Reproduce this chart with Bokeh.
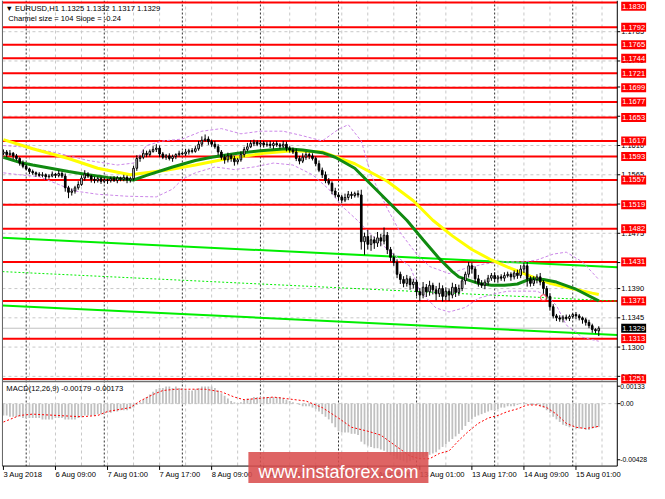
from bokeh.plotting import figure
from bokeh.models import Range1d, Label, ColumnDataSource
from bokeh.core.properties import value
from bokeh.embed import file_html
from bokeh.resources import INLINE

# ---------------- data ----------------
symbol = "EURUSD,H1"
open0 = 1.1598
closes = [
    1.1600, 1.1596, 1.1598, 1.1594, 1.1590, 1.1583, 1.1578, 1.1574, 1.1570, 1.1568,
    1.1566, 1.1564, 1.1565, 1.1562, 1.1563, 1.1566, 1.1564, 1.1567, 1.1563, 1.1545,
    1.1538, 1.1540, 1.1545, 1.1550, 1.1560, 1.1566, 1.1563, 1.1558, 1.1556, 1.1559,
    1.1555, 1.1557, 1.1556, 1.1559, 1.1556, 1.1560, 1.1558, 1.1561, 1.1557, 1.1559,
    1.1575, 1.1590, 1.1592, 1.1598, 1.1596, 1.1601, 1.1604, 1.1606, 1.1597, 1.1592,
    1.1594, 1.1590, 1.1593, 1.1596, 1.1598, 1.1597, 1.1600, 1.1602, 1.1601, 1.1605,
    1.1612, 1.1618, 1.1620, 1.1616, 1.1612, 1.1608, 1.1600, 1.1592, 1.1588, 1.1594,
    1.1590, 1.1585, 1.1588, 1.1596, 1.1604, 1.1608, 1.1613, 1.1615, 1.1612, 1.1614,
    1.1611, 1.1612, 1.1610, 1.1613, 1.1611, 1.1609, 1.1612, 1.1606, 1.1603, 1.1600,
    1.1590, 1.1586, 1.1592, 1.1596, 1.1594, 1.1590, 1.1582, 1.1572, 1.1565, 1.1556,
    1.1552, 1.1540, 1.1534, 1.1531, 1.1526, 1.1530, 1.1535, 1.1533, 1.1536, 1.1534,
    1.1462, 1.1470, 1.1458, 1.1465, 1.1460, 1.1468, 1.1463, 1.1472, 1.1450, 1.1438,
    1.1430, 1.1412, 1.1404, 1.1398, 1.1405, 1.1396, 1.1400, 1.1385, 1.1380, 1.1392,
    1.1385, 1.1395, 1.1388, 1.1382, 1.1390, 1.1378, 1.1386, 1.1380, 1.1392, 1.1384,
    1.1390, 1.1402, 1.1412, 1.1425, 1.1420, 1.1405, 1.1398, 1.1395, 1.1400, 1.1406,
    1.1410, 1.1405, 1.1408, 1.1406, 1.1410, 1.1412, 1.1408, 1.1414, 1.1410, 1.1420,
    1.1425, 1.1405, 1.1398, 1.1404, 1.1408, 1.1400, 1.1390, 1.1378, 1.1362, 1.1348,
    1.1345, 1.1343, 1.1346, 1.1344, 1.1347, 1.1350, 1.1348, 1.1345, 1.1342, 1.1338,
    1.1333, 1.1327, 1.1325, 1.1329,
]
wick_up_pips = [
    4, 3, 5, 2, 3, 2, 4, 3, 2, 3,
    2, 3, 4, 2, 3, 4, 2, 5, 3, 4,
    3, 4, 3, 5, 4, 6, 3, 2, 4, 3,
    3, 4, 2, 3, 4, 3, 2, 4, 3, 3,
    4, 5, 3, 6, 4, 3, 5, 6, 4, 3,
    3, 4, 3, 2, 4, 3, 5, 3, 4, 4,
    5, 6, 7, 4, 3, 5, 4, 3, 4, 5,
    3, 4, 3, 5, 4, 6, 5, 4, 3, 4,
    3, 4, 5, 3, 4, 3, 5, 4, 3, 4,
    5, 4, 6, 4, 3, 4, 3, 5, 4, 5,
    4, 3, 5, 4, 3, 6, 5, 4, 3, 5,
    8, 6, 10, 7, 5, 9, 6, 12, 5, 4,
    6, 5, 4, 5, 6, 4, 5, 4, 6, 8,
    5, 7, 4, 6, 9, 5, 6, 4, 7, 5,
    6, 5, 4, 6, 5, 4, 6, 5, 4, 5,
    4, 5, 3, 4, 5, 4, 3, 4, 5, 6,
    5, 6, 4, 5, 4, 6, 3, 4, 5, 4,
    3, 4, 3, 4, 3, 2, 4, 3, 2, 3,
    4, 3, 2, 3,
]
wick_dn_pips = [
    3, 4, 2, 5, 3, 4, 3, 2, 4, 3,
    4, 2, 3, 5, 3, 2, 4, 3, 3, 6,
    9, 5, 4, 3, 2, 4, 3, 5, 4, 3,
    4, 3, 5, 3, 2, 4, 3, 3, 5, 4,
    3, 4, 5, 3, 4, 3, 2, 4, 5, 3,
    4, 3, 5, 4, 3, 2, 3, 4, 3, 2,
    3, 4, 2, 5, 4, 3, 5, 4, 6, 4,
    5, 6, 4, 3, 4, 3, 2, 4, 3, 5,
    4, 3, 4, 5, 3, 4, 3, 5, 4, 3,
    4, 5, 3, 4, 5, 3, 4, 3, 5, 4,
    3, 5, 4, 6, 5, 3, 4, 5, 3, 4,
    12, 20, 8, 10, 9, 6, 8, 5, 7, 6,
    5, 6, 7, 6, 5, 8, 6, 7, 9, 5,
    8, 6, 7, 10, 5, 8, 6, 9, 5, 7,
    5, 4, 6, 5, 7, 6, 5, 4, 6, 5,
    4, 5, 6, 4, 5, 3, 6, 4, 5, 4,
    6, 12, 5, 4, 6, 5, 8, 5, 6, 4,
    5, 4, 5, 3, 4, 3, 5, 4, 6, 5,
    4, 5, 4, 8,
]

# MACD(12,26,9): main histogram (x 1e-4) and signal line samples
macd_hist_e4 = [
    -9, -9, -10, -10, -10, -10, -11, -11, -11, -11,
    -11, -11, -12, -12, -12, -12, -11, -11, -11, -12,
    -12, -12, -12, -11, -10, -9, -9, -9, -9, -8,
    -8, -8, -7, -7, -6, -6, -5, -5, -5, -4,
    -3, -1, 1, 3, 5, 7, 9, 11, 12, 12,
    13, 13, 12, 13, 12, 12, 11, 10, 10, 11,
    12, 13, 13, 13, 13, 12, 10, 8, 6, 4,
    2, 1, 0, 1, 3, 4, 4, 5, 5, 5,
    5, 5, 5, 5, 5, 5, 4, 3, 2, 1,
    0, -1, -2, -2, -2, -3, -4, -6, -8, -10,
    -12, -15, -18, -21, -22, -22, -22, -23, -23, -24,
    -29, -31, -32, -33, -34, -34, -35, -36, -37, -39,
    -40, -42, -43, -44, -45, -44, -43, -42, -42, -41,
    -40, -39, -38, -37, -35, -33, -31, -29, -27, -25,
    -23, -20, -17, -14, -12, -10, -9, -8, -7, -6,
    -5, -5, -4, -3, -3, -2, -2, -2, -1, 0,
    1, 0, -1, -1, -1, -2, -3, -5, -7, -10,
    -12, -14, -16, -17, -18, -18, -19, -19, -19, -20,
    -20, -19, -18.5, -17.9,
]
macd_last = -0.00179
signal_last = -0.00173
signal_bars = [0, 5, 9, 24, 29, 32, 39, 42, 46, 49, 53, 62, 67, 71, 74, 83, 93, 98,
               103, 107, 112, 116, 121, 125, 128, 131, 134, 137, 140, 143, 146, 149,
               152, 155, 158, 161, 164, 167, 170, 173, 176, 179, 183]
signal_e4 = [-14, -9, -8, -10, -9, -6, -3, 2, 7, 10, 11, 11, 9, 5, 3, 5, 2, -3,
             -11, -18, -21, -24, -33, -40, -42, -42, -38, -36, -28, -21, -15, -11,
             -9, -6, -4, -1, -1, -3, -8, -15, -18, -19, -17.3]

ma_green_bars = [0, 5, 9, 20, 26, 32, 40, 44, 52, 59, 64, 72, 79, 87, 92, 98, 102, 108,
                 112, 118, 124, 129, 134, 138, 140, 143, 146, 150, 154, 158, 162, 166,
                 170, 176, 183]
ma_green = [1.1592, 1.1584, 1.1580, 1.1570, 1.1565, 1.1561, 1.1557, 1.1564, 1.1577,
            1.1587, 1.1592, 1.1598, 1.1602, 1.1605, 1.1603, 1.1599, 1.1592, 1.1575,
            1.1555, 1.1525, 1.1495, 1.1465, 1.1436, 1.1416, 1.1408, 1.1403, 1.1398,
            1.1395, 1.1395, 1.1397, 1.1405, 1.1404, 1.1400, 1.1389, 1.1371]
ma_yellow_bars = [0, 9, 20, 29, 39, 50, 59, 69, 80, 89, 98, 108, 118, 126, 132, 138,
                  144, 150, 156, 162, 168, 174, 181, 183]
ma_yellow = [1.1619, 1.1605, 1.1590, 1.1575, 1.1565, 1.1572, 1.1580, 1.1590, 1.1598,
             1.1602, 1.1600, 1.1582, 1.1555, 1.1525, 1.1495, 1.1471, 1.1450, 1.1434,
             1.1421, 1.1409, 1.1398, 1.1391, 1.1383, 1.1381]

bb_up_bars = [0, 8, 17, 26, 35, 40, 44, 49, 55, 61, 67, 73, 79, 86, 92, 98, 103, 106,
              110, 113, 118, 122, 127, 131, 137, 142, 148, 154, 160, 164, 169, 173, 178, 183]
bb_up = [1.1610, 1.1607, 1.1598, 1.1587, 1.1580, 1.1583, 1.1610, 1.1617, 1.1620, 1.1632,
         1.1636, 1.1628, 1.1632, 1.1632, 1.1625, 1.1617, 1.1635, 1.1642, 1.1617, 1.1565,
         1.1513, 1.1476, 1.1443, 1.1424, 1.1413, 1.1421, 1.1428, 1.1431, 1.1431, 1.1434,
         1.1443, 1.1446, 1.1431, 1.1404]
bb_lo_bars = [0, 5, 11, 17, 22, 29, 38, 47, 52, 55, 59, 65, 71, 77, 83, 89, 95, 100, 104,
              109, 113, 119, 125, 128, 133, 137, 142, 146, 151, 155, 160, 164, 167, 170,
              173, 178, 183]
bb_lo = [1.1568, 1.1565, 1.1562, 1.1550, 1.1540, 1.1535, 1.1532, 1.1531, 1.1543, 1.1558,
         1.1568, 1.1577, 1.1573, 1.1577, 1.1583, 1.1580, 1.1565, 1.1543, 1.1517, 1.1494,
         1.1473, 1.1446, 1.1424, 1.1386, 1.1360, 1.1354, 1.1361, 1.1375, 1.1382, 1.1386,
         1.1386, 1.1386, 1.1379, 1.1364, 1.1334, 1.1315, 1.1309]

channel_mid0 = 1.1416
channel_slope_pips = -0.24
channel_size_pips = 104

levels = [1.1830, 1.1792, 1.1765, 1.1744, 1.1721, 1.1699, 1.1677, 1.1653, 1.1617,
          1.1593, 1.1557, 1.1519, 1.1482, 1.1431, 1.1371, 1.1313, 1.1251]
bid_price = 1.1329
price_ticks = [1.1255, 1.1300, 1.1345, 1.1390, 1.1430, 1.1475, 1.1520, 1.1565,
               1.1610, 1.1655, 1.1700, 1.1740, 1.1785]
macd_ticks = [0.00133, 0.0, -0.00428]
macd_tick_labels = ["0.00133", "0.00", "-0.00428"]
time_tick_bars = [0, 16, 32, 48, 64, 80, 96, 112, 128, 144, 160, 176]
time_tick_labels = ["3 Aug 2018", "6 Aug 09:00", "7 Aug 01:00", "7 Aug 17:00",
                    "8 Aug 09:00", "9 Aug 01:00", "9 Aug 17:00", "10 Aug 09:00",
                    "13 Aug 01:00", "13 Aug 17:00", "14 Aug 09:00", "15 Aug 01:00"]
day_sep_bars = [7, 31, 55, 79, 103, 127, 151, 175]
grid_bars = [8, 16, 24, 32, 40, 48, 56, 64, 72, 80, 88, 96, 104, 112, 120, 128, 136,
             144, 152, 160, 168, 176, 184]
alert_bars = [166]
alert_prices = [1.1376]

# ---------------- layout (positions in reference pixels) ----------------
FONT = "Liberation Sans"
PX_PER_BAR = 10 / 3
PX_PER_PRICE = 6718
MACD_PX_PER_UNIT = 13550
PRICE_TOP = 1.1833
MACD_ZERO_PX = 416.5


def bar_at(xpx):
    return -0.3 + (xpx - 2) / PX_PER_BAR


def price_at(ypx):
    return PRICE_TOP - ypx / PX_PER_PRICE


def macd_at(ypx):
    return (MACD_ZERO_PX - ypx) / MACD_PX_PER_UNIT


LEFT = bar_at(2)
AXIS_X = bar_at(632)
TOP_P = price_at(0)
PANEL_BOTTOM_P = price_at(481)
LABEL_MAX_P = price_at(6)

n = len(closes)
bars = list(range(n))
opens = [open0] + closes[:-1]
highs = [max(o, c) + u * 1e-4 for o, c, u in zip(opens, closes, wick_up_pips)]
lows = [min(o, c) - d * 1e-4 for o, c, d in zip(opens, closes, wick_dn_pips)]
tops = [max(o, c) for o, c in zip(opens, closes)]
bots = [min(o, c) for o, c in zip(opens, closes)]
fills = ["white" if c >= o else "black" for o, c in zip(opens, closes)]
csrc = ColumnDataSource(dict(x=bars, h=highs, l=lows, t=tops, b=bots, f=fills))
msrc = ColumnDataSource(dict(x=bars, v=[v * 1e-4 for v in macd_hist_e4]))

p = figure(width=649, height=483, output_backend="svg", toolbar_location=None,
           x_range=Range1d(bar_at(0), bar_at(665)),
           y_range=Range1d(price_at(499), price_at(0)),
           min_border=0, min_border_left=0, min_border_right=0,
           min_border_top=0, min_border_bottom=0,
           background_fill_color="white", border_fill_color="white",
           outline_line_color=None)
p.extra_y_ranges = {"macd": Range1d(macd_at(499), macd_at(0))}
p.grid.visible = False
p.axis.visible = False

# grids
n_pt = len(price_ticks)
p.segment(x0=[LEFT] * n_pt, x1=[AXIS_X] * n_pt, y0=price_ticks, y1=price_ticks,
          line_color="#c8c8c8", line_dash="3 3", line_width=1)
p.segment(x0=[LEFT], x1=[AXIS_X], y0=[0.0], y1=[0.0], y_range_name="macd",
          line_color="#c8c8c8", line_dash="3 3", line_width=1)
p.segment(x0=grid_bars, x1=grid_bars, y0=[TOP_P] * len(grid_bars),
          y1=[PANEL_BOTTOM_P] * len(grid_bars), line_color="#c8c8c8",
          line_dash="3 3", line_width=1)
p.segment(x0=day_sep_bars, x1=day_sep_bars, y0=[TOP_P] * len(day_sep_bars),
          y1=[PANEL_BOTTOM_P] * len(day_sep_bars), line_color="#333333",
          line_dash="2 2", line_width=1)

# bid line
p.segment(x0=[LEFT], x1=[AXIS_X], y0=[bid_price], y1=[bid_price],
          line_color="#c0c0c0", line_width=1)

# horizontal levels
nl = len(levels)
p.segment(x0=[LEFT] * nl, x1=[AXIS_X] * nl, y0=levels, y1=levels,
          line_color="#ff0000", line_width=2)

# regression channel
cx = [LEFT, AXIS_X]
mid = [channel_mid0 + channel_slope_pips * 1e-4 * x for x in cx]
half = channel_size_pips * 1e-4 / 2
p.line(cx, [m + half for m in mid], line_color="#00ee00", line_width=2)
p.line(cx, mid, line_color="#00ee00", line_width=1, line_dash="2 2")
p.line(cx, [m - half for m in mid], line_color="#00ee00", line_width=2)

# bands
p.line(bb_up_bars, bb_up, line_color="#cc88e8", line_width=1, line_dash="3 2")
p.line(bb_lo_bars, bb_lo, line_color="#cc88e8", line_width=1, line_dash="3 2")

# moving averages
p.line(ma_yellow_bars, ma_yellow, line_color="#ffff00", line_width=3)
p.line(ma_green_bars, ma_green, line_color="#108a10", line_width=3)

# candles
p.segment(x0="x", y0="l", x1="x", y1="h", source=csrc, line_color="black", line_width=1)
p.vbar(x="x", top="t", bottom="b", width=0.5, source=csrc, fill_color="f",
       line_color="black", line_width=1)

p.scatter(alert_bars, alert_prices, marker="circle", size=6, fill_color=None,
          line_color="#ff4040", line_width=1)

# MACD
p.vbar(x="x", top="v", bottom=0, width=0.55, source=msrc, y_range_name="macd",
       fill_color="#c0c0c0", line_color=None)
p.line(signal_bars, [v * 1e-4 for v in signal_e4], y_range_name="macd",
       line_color="#ff0000", line_width=1, line_dash="2 2")

# frame lines
p.segment(x0=[LEFT], x1=[LEFT], y0=[TOP_P], y1=[PANEL_BOTTOM_P],
          line_color="#606060", line_width=1)
p.segment(x0=[AXIS_X], x1=[AXIS_X], y0=[TOP_P], y1=[PANEL_BOTTOM_P],
          line_color="black", line_width=1)
p.segment(x0=[LEFT], x1=[AXIS_X], y0=[PANEL_BOTTOM_P], y1=[PANEL_BOTTOM_P],
          line_color="black", line_width=1)
p.segment(x0=[LEFT], x1=[AXIS_X], y0=[price_at(393.5)], y1=[price_at(393.5)],
          line_color="#707070", line_width=1.5)

# right axis: ticks and labels
tick_x1 = bar_at(635)
p.segment(x0=[AXIS_X] * n_pt, x1=[tick_x1] * n_pt, y0=price_ticks, y1=price_ticks,
          line_color="black", line_width=1)
p.text(x=[bar_at(636)] * n_pt, y=price_ticks, text=[f"{t:.4f}" for t in price_ticks],
       text_font=value(FONT), text_font_size="7.5px", text_baseline="middle",
       text_align="left", text_color="black")
nm = len(macd_ticks)
p.segment(x0=[AXIS_X] * nm, x1=[tick_x1] * nm, y0=macd_ticks, y1=macd_ticks,
          y_range_name="macd", line_color="black", line_width=1)
p.text(x=[bar_at(635)] * nm, y=macd_ticks, text=macd_tick_labels, y_range_name="macd",
       text_font=value(FONT), text_font_size="6.8px", text_baseline="middle",
       text_align="left", text_color="black")

for lv in levels:
    p.add_layout(Label(x=bar_at(636), y=min(lv, LABEL_MAX_P), text=f"{lv:.4f}",
                       text_align="left", text_baseline="middle", text_font=FONT,
                       text_font_size="7.5px", text_color="white",
                       background_fill_color="#ff0000", padding=(1, 2)))
p.add_layout(Label(x=bar_at(636), y=bid_price, text=f"{bid_price:.4f}", text_align="left",
                   text_baseline="middle", text_font=FONT, text_font_size="7.5px",
                   text_color="white", background_fill_color="#000000", padding=(1, 2)))

# bottom time axis
nt = len(time_tick_bars)
p.segment(x0=time_tick_bars, x1=time_tick_bars, y0=[PANEL_BOTTOM_P] * nt,
          y1=[price_at(485)] * nt, line_color="black", line_width=1)
p.text(x=time_tick_bars, y=[price_at(490)] * nt, text=time_tick_labels,
       text_font=value(FONT), text_font_size="7.6px", text_baseline="middle",
       text_align="left", text_color="black")

# header texts
head = f"\u25bc {symbol}  {opens[-1]:.4f} {highs[-1]:.4f} {lows[-1]:.4f} {closes[-1]:.4f}"
p.add_layout(Label(x=bar_at(5), y=price_at(8), text=head, text_baseline="middle",
                   text_font=FONT, text_font_size="7.6px", text_color="black"))
p.add_layout(Label(x=bar_at(8), y=price_at(19),
                   text=f"Channel size = {channel_size_pips} Slope = {channel_slope_pips:.2f}",
                   text_baseline="middle", text_font=FONT, text_font_size="7.6px",
                   text_color="black"))
p.add_layout(Label(x=bar_at(6), y=macd_at(401), y_range_name="macd",
                   text=f"MACD(12,26,9) {macd_last:.5f} {signal_last:.5f}",
                   text_baseline="middle", text_font=FONT, text_font_size="7.6px",
                   text_color="black"))

# watermark
p.add_layout(Label(x=bar_at(254), y=price_at(487), text="www.instaforex.com",
                   text_baseline="middle", text_align="left",
                   text_font=FONT, text_font_size="18px", text_color="white",
                   background_fill_color="#d94f4f", background_fill_alpha=0.88,
                   padding=(10, 10), level="overlay"))

open("out.html", "w").write(file_html(p, INLINE))
